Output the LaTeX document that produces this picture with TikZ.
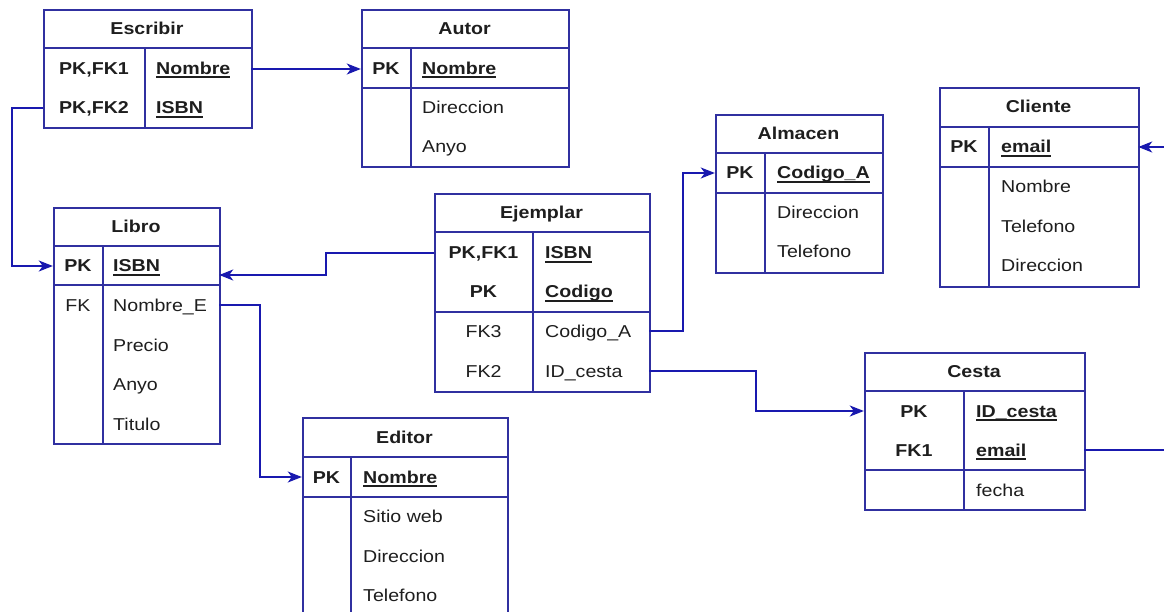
\documentclass[tikz,border=0pt]{standalone}
\usepackage{fontspec}
\setmainfont{Liberation Sans}
\usepackage{graphicx}
\usetikzlibrary{arrows.meta,calc}

\definecolor{frame}{RGB}{48,48,160}
\definecolor{link}{RGB}{25,25,175}
\definecolor{ink}{RGB}{30,30,30}

% text is set slightly wider than the font's natural width
\newcommand\wide[1]{\scalebox{1.14}[1]{#1}}
% thick underline for primary-key attributes
\newcommand\ukey[1]{\setbox0=\hbox{#1}\rlap{\rule[-3.6pt]{\wd0}{1.7pt}}\box0}

\tikzset{
  x=1pt, y=-1pt,
  tbl/.style={draw=frame, line width=1.8pt, anchor=north west, inner sep=0pt},
  sep/.style={draw=frame, line width=1.8pt},
  rowbox/.style={inner sep=0pt, minimum height=39.5pt},
  txt/.style={inner sep=0pt, text=ink, font=\fontsize{17.2}{20}\selectfont},
  ttl/.style={txt, anchor=base, font=\fontsize{17.2}{20}\selectfont\bfseries},
  keyb/.style={txt, anchor=base, font=\fontsize{17.2}{20}\selectfont\bfseries},
  keyr/.style={txt, anchor=base},
  valb/.style={txt, anchor=base west, font=\fontsize{17.2}{20}\selectfont\bfseries},
  valr/.style={txt, anchor=base west},
  conn/.style={draw=link, line width=2pt},
  arr/.style={conn, -{Stealth[length=14pt,width=11pt,inset=4pt]}},
}

\begin{document}
\begin{tikzpicture}
\useasboundingbox (0,0) rectangle (1164,612);
\fill[white] (0,0) rectangle (1164,612);
\clip (0,0) rectangle (1164,612);

% ---------------- Escribir ----------------
\node[tbl, minimum width=208pt, minimum height=118pt] (escribir) at (43,9) {};
\draw[sep] (43,48) -- (251,48);
\draw[sep] (145,48) -- (145,127);
\node[ttl] (escT) at (147,35) {\wide{Escribir}};
\node[rowbox, minimum width=208pt] (escNombre) at (147,69) {};
\node[rowbox, minimum width=208pt] (escISBN) at (147,108) {};
\node[keyb] (escK1) at (94,74.5) {\wide{PK,FK1}};
\node[valb] (escV1) at (156,74.5) {\wide{\ukey{Nombre}}};
\node[keyb] (escK2) at (94,114) {\wide{PK,FK2}};
\node[valb] (escV2) at (156,114) {\wide{\ukey{ISBN}}};

% ---------------- Autor ----------------
\node[tbl, minimum width=207pt, minimum height=157pt] (autor) at (361,9) {};
\draw[sep] (361,48) -- (568,48);
\draw[sep] (361,88) -- (568,88);
\draw[sep] (411,48) -- (411,166);
\node[ttl] (autT) at (464.5,35) {\wide{Autor}};
\node[rowbox, minimum width=207pt] (autNombre) at (464.5,69) {};
\node[keyb] (autK1) at (386,74.5) {\wide{PK}};
\node[valb] (autV1) at (422,74.5) {\wide{\ukey{Nombre}}};
\node[valr] (autV2) at (422,114) {\wide{Direccion}};
\node[valr] (autV3) at (422,153) {\wide{Anyo}};

% ---------------- Libro ----------------
\node[tbl, minimum width=166pt, minimum height=236pt] (libro) at (53,207) {};
\draw[sep] (53,246) -- (219,246);
\draw[sep] (53,285) -- (219,285);
\draw[sep] (103,246) -- (103,443);
\node[ttl] (libT) at (136,233) {\wide{Libro}};
\node[rowbox, minimum width=166pt] (libISBN) at (136,266) {};
\node[rowbox, minimum width=166pt] (libNombreE) at (136,305) {};
\coordinate (libIn) at ($(libISBN.east)+(0,9)$);
\node[keyb] (libK1) at (78,272) {\wide{PK}};
\node[valb] (libV1) at (113,272) {\wide{\ukey{ISBN}}};
\node[keyr] (libK2) at (78,311) {\wide{FK}};
\node[valr] (libV2) at (113,311) {\wide{Nombre\_E}};
\node[valr] (libV3) at (113,351) {\wide{Precio}};
\node[valr] (libV4) at (113,390) {\wide{Anyo}};
\node[valr] (libV5) at (113,430) {\wide{Titulo}};

% ---------------- Ejemplar ----------------
\node[tbl, minimum width=215pt, minimum height=198pt] (ejemplar) at (434,193) {};
\draw[sep] (434,232) -- (649,232);
\draw[sep] (434,312) -- (649,312);
\draw[sep] (533,232) -- (533,391);
\node[ttl] (ejeT) at (541.5,219) {\wide{Ejemplar}};
\node[rowbox, minimum width=215pt] (ejeISBN) at (541.5,253) {};
\node[rowbox, minimum width=215pt] (ejeCodA) at (541.5,331) {};
\node[rowbox, minimum width=215pt] (ejeIDc) at (541.5,371) {};
\node[keyb] (ejeK1) at (483.5,259) {\wide{PK,FK1}};
\node[valb] (ejeV1) at (545,259) {\wide{\ukey{ISBN}}};
\node[keyb] (ejeK2) at (483.5,298) {\wide{PK}};
\node[valb] (ejeV2) at (545,298) {\wide{\ukey{Codigo}}};
\node[keyr] (ejeK3) at (483.5,337) {\wide{FK3}};
\node[valr] (ejeV3) at (545,337) {\wide{Codigo\_A}};
\node[keyr] (ejeK4) at (483.5,377) {\wide{FK2}};
\node[valr] (ejeV4) at (545,377) {\wide{ID\_cesta}};

% ---------------- Almacen ----------------
\node[tbl, minimum width=167pt, minimum height=158pt] (almacen) at (715,114) {};
\draw[sep] (715,153) -- (882,153);
\draw[sep] (715,193) -- (882,193);
\draw[sep] (765,153) -- (765,272);
\node[ttl] (almT) at (798.5,140) {\wide{Almacen}};
\node[rowbox, minimum width=167pt] (almCod) at (798.5,173) {};
\node[keyb] (almK1) at (740,179) {\wide{PK}};
\node[valb] (almV1) at (777,179) {\wide{\ukey{Codigo\_A}}};
\node[valr] (almV2) at (777,219) {\wide{Direccion}};
\node[valr] (almV3) at (777,258) {\wide{Telefono}};

% ---------------- Cliente ----------------
\node[tbl, minimum width=199pt, minimum height=199pt] (cliente) at (939,87) {};
\draw[sep] (939,127) -- (1138,127);
\draw[sep] (939,167) -- (1138,167);
\draw[sep] (989,127) -- (989,286);
\node[ttl] (cliT) at (1038.5,113) {\wide{Cliente}};
\node[rowbox, minimum width=199pt] (cliEmail) at (1038.5,147) {};
\node[keyb] (cliK1) at (964,153) {\wide{PK}};
\node[valb] (cliV1) at (1001,153) {\wide{\ukey{email}}};
\node[valr] (cliV2) at (1001,193) {\wide{Nombre}};
\node[valr] (cliV3) at (1001,233) {\wide{Telefono}};
\node[valr] (cliV4) at (1001,272) {\wide{Direccion}};

% ---------------- Editor ----------------
\node[tbl, minimum width=205pt, minimum height=223pt] (editor) at (302,417) {};
\draw[sep] (302,457) -- (507,457);
\draw[sep] (302,497) -- (507,497);
\draw[sep] (351,457) -- (351,640);
\node[ttl] (edtT) at (404.5,443) {\wide{Editor}};
\node[rowbox, minimum width=205pt] (edtNombre) at (404.5,477) {};
\node[keyb] (edtK1) at (326.5,483) {\wide{PK}};
\node[valb] (edtV1) at (363,483) {\wide{\ukey{Nombre}}};
\node[valr] (edtV2) at (363,522) {\wide{Sitio web}};
\node[valr] (edtV3) at (363,562) {\wide{Direccion}};
\node[valr] (edtV4) at (363,601) {\wide{Telefono}};

% ---------------- Cesta ----------------
\node[tbl, minimum width=220pt, minimum height=157pt] (cesta) at (864,352) {};
\draw[sep] (864,391) -- (1084,391);
\draw[sep] (864,470) -- (1084,470);
\draw[sep] (964,391) -- (964,509);
\node[ttl] (cesT) at (974,377) {\wide{Cesta}};
\node[rowbox, minimum width=220pt] (cesID) at (974,411) {};
\node[rowbox, minimum width=220pt] (cesEmail) at (974,450) {};
\node[keyb] (cesK1) at (914,417) {\wide{PK}};
\node[valb] (cesV1) at (976,417) {\wide{\ukey{ID\_cesta}}};
\node[keyb] (cesK2) at (914,456) {\wide{FK1}};
\node[valb] (cesV2) at (976,456) {\wide{\ukey{email}}};
\node[valr] (cesV3) at (976,496) {\wide{fecha}};

% ---------------- relationships ----------------
\draw[arr] (escNombre.east) -- (autNombre.west);
\draw[arr] (escISBN.west) -- ++(-31,0) |- (libISBN.west);
\draw[arr] (ejeISBN.west) -- ++(-108,0) |- (libIn);
\draw[arr] (libNombreE.east) -- ++(41,0) |- (edtNombre.west);
\draw[arr] (ejeCodA.east) -- ++(34,0) |- (almCod.west);
\draw[arr] (ejeIDc.east) -- ++(107,0) |- (cesID.west);
\draw[arr] (cesEmail.east) -- ++(100,0) |- (cliEmail.east);
\end{tikzpicture}
\end{document}
